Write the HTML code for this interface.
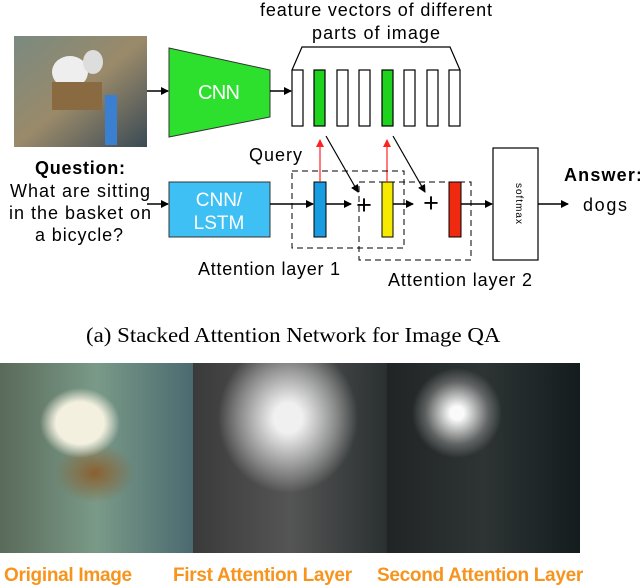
<!DOCTYPE html>
<html><head><style>
body{margin:0;width:640px;height:588px;background:#fff;position:relative;overflow:hidden;font-family:"Liberation Sans",sans-serif}
.t{position:absolute;white-space:nowrap;color:#000}
.lab{position:absolute;top:565px;font-weight:bold;color:#f7941d;font-size:19px;letter-spacing:-0.3px}
.img{position:absolute;top:363px;height:190px}
</style></head><body>
<svg width="640" height="300" style="position:absolute;left:0;top:0" font-family="Liberation Sans">
<defs>
<marker id="a" markerWidth="8" markerHeight="8" refX="7" refY="4" orient="auto" markerUnits="userSpaceOnUse"><path d="M0,0L8,4L0,8z" fill="#000"/></marker>
<marker id="r" markerWidth="8" markerHeight="8" refX="7" refY="4" orient="auto" markerUnits="userSpaceOnUse"><path d="M0,0L8,4L0,8z" fill="#f22"/></marker>
<linearGradient id="ph" x1="0" y1="0" x2="1" y2="1"><stop offset="0" stop-color="#7a8a80"/><stop offset="0.5" stop-color="#9a8a6a"/><stop offset="1" stop-color="#3a4a55"/></linearGradient>
</defs>
<rect x="14" y="36" width="133" height="111" fill="url(#ph)"/>
<ellipse cx="70" cy="72" rx="18" ry="16" fill="#eee"/><ellipse cx="93" cy="62" rx="10" ry="12" fill="#ddd"/>
<rect x="52" y="82" width="50" height="28" fill="#8a6a40"/>
<rect x="105" y="95" width="12" height="50" fill="#3a7fd0"/>
<line x1="147" y1="91" x2="168" y2="91" stroke="#000" stroke-width="1.5" marker-end="url(#a)"/>
<polygon points="169,48 270,70 270,117 169,137" fill="#2ee02e" stroke="#333"/>
<text x="219" y="99" font-size="20" fill="#fff" text-anchor="middle" textLength="42">CNN</text>
<line x1="270" y1="91" x2="291" y2="91" stroke="#000" stroke-width="1.5" marker-end="url(#a)"/>
<polyline points="292,70 302,47 450,47 460,70" fill="none" stroke="#000" stroke-width="1.2"/>
<g stroke="#000" stroke-width="1.2" fill="#fff">
<rect x="292" y="70" width="11" height="56"/><rect x="314" y="70" width="11" height="56" fill="#1ed21e"/>
<rect x="337" y="70" width="11" height="56"/><rect x="359" y="70" width="11" height="56"/>
<rect x="382" y="70" width="11" height="56" fill="#1ed21e"/><rect x="404" y="70" width="11" height="56"/>
<rect x="427" y="70" width="11" height="56"/><rect x="449" y="70" width="11" height="56"/>
</g>
<text x="260" y="16" font-size="18" textLength="232">feature vectors of different</text>
<text x="312" y="39" font-size="18" textLength="128">parts of image</text>
<text x="249" y="161" font-size="18" textLength="53">Query</text>
<text x="35" y="174" font-size="18" font-weight="bold" textLength="90">Question:</text>
<text x="10" y="197" font-size="18" textLength="140">What are sitting</text>
<text x="9" y="219" font-size="18" textLength="142">in the basket on</text>
<text x="35" y="241" font-size="18" textLength="88">a bicycle?</text>
<line x1="147" y1="204" x2="168" y2="204" stroke="#000" stroke-width="1.5" marker-end="url(#a)"/>
<rect x="169" y="182" width="101" height="55" fill="#3ec0f5" stroke="#333"/>
<text x="219" y="206" font-size="19" fill="#fff" text-anchor="middle">CNN/</text>
<text x="219" y="229" font-size="19" fill="#fff" text-anchor="middle">LSTM</text>
<line x1="270" y1="204" x2="313" y2="204" stroke="#000" stroke-width="1.5" marker-end="url(#a)"/>
<rect x="314" y="182" width="12" height="55" fill="#1a9de0" stroke="#000"/>
<rect x="382" y="182" width="11" height="55" fill="#f5ea00" stroke="#000"/>
<rect x="449" y="182" width="12" height="55" fill="#f02a10" stroke="#000"/>
<line x1="326" y1="204" x2="351" y2="204" stroke="#000" stroke-width="1.5" marker-end="url(#a)"/>
<line x1="393" y1="204" x2="413" y2="204" stroke="#000" stroke-width="1.5" marker-end="url(#a)"/>
<line x1="461" y1="204" x2="492" y2="204" stroke="#000" stroke-width="1.5" marker-end="url(#a)"/>
<line x1="538" y1="204" x2="568" y2="204" stroke="#000" stroke-width="1.5" marker-end="url(#a)"/>
<text x="364" y="214" font-size="27" text-anchor="middle">+</text>
<text x="431" y="212" font-size="27" text-anchor="middle">+</text>
<line x1="320" y1="182" x2="320" y2="140" stroke="#f22" stroke-width="1.2" marker-end="url(#r)"/>
<line x1="387" y1="182" x2="387" y2="140" stroke="#f22" stroke-width="1.2" marker-end="url(#r)"/>
<line x1="326" y1="136" x2="358" y2="192" stroke="#000" stroke-width="1.2" marker-end="url(#a)"/>
<line x1="393" y1="136" x2="425" y2="192" stroke="#000" stroke-width="1.2" marker-end="url(#a)"/>
<rect x="292" y="171" width="112" height="77" fill="none" stroke="#000" stroke-dasharray="6,4"/>
<rect x="359" y="182" width="112" height="78" fill="none" stroke="#000" stroke-dasharray="6,4"/>
<rect x="493" y="148" width="45" height="112" fill="#fff" stroke="#000" stroke-width="1.2"/>
<text x="516" y="204" font-size="10" text-anchor="middle" transform="rotate(90 516 204)" letter-spacing="1">softmax</text>
<text x="198" y="275" font-size="18" textLength="142">Attention layer 1</text>
<text x="388" y="286" font-size="18" textLength="144">Attention layer 2</text>
<text x="564" y="181" font-size="18" font-weight="bold" textLength="78">Answer:</text>
<text x="583" y="211" font-size="18" textLength="44">dogs</text>
</svg>
<div class="t" style="left:86px;top:323px;font-family:'Liberation Serif',serif;font-size:21px;transform:scaleX(1.09);transform-origin:0 0">(a) Stacked Attention Network for Image QA</div>
<div class="img" style="left:0;width:193px;background:radial-gradient(ellipse 40px 35px at 80px 60px,#f4f0e0 60%,transparent 100%),radial-gradient(ellipse 40px 30px at 95px 110px,#8a6030,transparent),linear-gradient(90deg,#5a6a5a,#7a9a88 50%,#4a6a70)"></div>
<div class="img" style="left:193px;width:194px;background:radial-gradient(ellipse 70px 75px at 95px 55px,#f0f0f0 20%,rgba(180,180,180,.6) 70%,transparent 100%),linear-gradient(90deg,#3a3a3a,#555 50%,#2a3030)"></div>
<div class="img" style="left:387px;width:193px;background:radial-gradient(ellipse 45px 45px at 70px 50px,#fafafa 15%,rgba(150,150,150,.5) 70%,transparent 100%),linear-gradient(90deg,#202424,#2e3434 50%,#141c1e)"></div>
<div class="lab" style="left:4px">Original Image</div>
<div class="lab" style="left:173px">First Attention Layer</div>
<div class="lab" style="left:377px">Second Attention Layer</div>
</body></html>
